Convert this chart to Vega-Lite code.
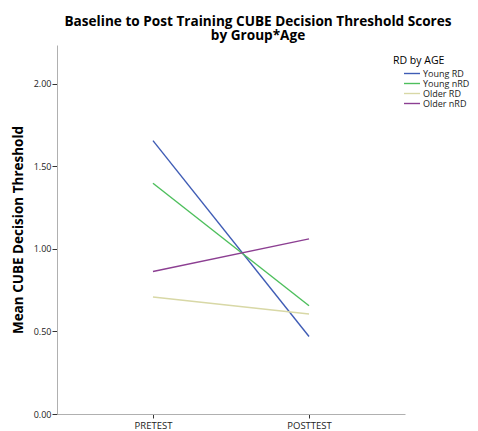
{
  "$schema": "https://vega.github.io/schema/vega-lite/v6.json",
  "width": 348,
  "height": 369,
  "autosize": {"type": "none"},
  "padding": {"left": 57, "top": 45, "right": 73, "bottom": 17},
  "background": "white",
  "title": {
    "text": ["Baseline to Post Training CUBE Decision Threshold Scores", "by Group*Age"],
    "font": "Open Sans",
    "fontSize": 13.6,
    "fontWeight": "bold",
    "color": "#000000",
    "anchor": "middle",
    "frame": "group",
    "dx": 27,
    "offset": 2,
    "lineHeight": 14
  },
  "data": {
    "values": [
      {"time": "PRETEST", "group": "Young RD", "mean": 1.655},
      {"time": "POSTTEST", "group": "Young RD", "mean": 0.469},
      {"time": "PRETEST", "group": "Young nRD", "mean": 1.397},
      {"time": "POSTTEST", "group": "Young nRD", "mean": 0.655},
      {"time": "PRETEST", "group": "Older RD", "mean": 0.708},
      {"time": "POSTTEST", "group": "Older RD", "mean": 0.605},
      {"time": "PRETEST", "group": "Older nRD", "mean": 0.863},
      {"time": "POSTTEST", "group": "Older nRD", "mean": 1.06}
    ]
  },
  "mark": {"type": "line", "strokeWidth": 1.4},
  "encoding": {
    "x": {
      "field": "time",
      "type": "nominal",
      "sort": ["PRETEST", "POSTTEST"],
      "scale": {"type": "point", "padding": 0.615},
      "axis": {
        "title": null,
        "labelAngle": 0,
        "labelFont": "Open Sans",
        "labelFontSize": 9.5,
        "labelColor": "#222222",
        "tickColor": "#333333",
        "tickSize": 4,
        "domainColor": "#b0b0b0",
        "labelPadding": 2,
        "grid": false
      }
    },
    "y": {
      "field": "mean",
      "type": "quantitative",
      "scale": {"domain": [0, 2.234], "nice": false},
      "axis": {
        "values": [0, 0.5, 1, 1.5, 2],
        "format": ".2f",
        "title": "Mean CUBE Decision Threshold",
        "titleFont": "Open Sans",
        "titleFontSize": 13.5,
        "titleFontWeight": "bold",
        "titleColor": "#000000",
        "titlePadding": 8,
        "labelFont": "Open Sans",
        "labelFontSize": 9,
        "labelColor": "#222222",
        "tickColor": "#333333",
        "tickSize": 5,
        "labelPadding": 1,
        "domainColor": "#b0b0b0",
        "grid": false
      }
    },
    "color": {
      "field": "group",
      "type": "nominal",
      "sort": ["Young RD", "Young nRD", "Older RD", "Older nRD"],
      "scale": {
        "domain": ["Young RD", "Young nRD", "Older RD", "Older nRD"],
        "range": ["#3f5cb5", "#4dbf5c", "#d8d8a6", "#8c3f92"]
      },
      "legend": {
        "title": "RD by AGE",
        "orient": "none",
        "legendX": 336,
        "legendY": 11,
        "titleFont": "Open Sans",
        "titleFontSize": 10.5,
        "titleFontWeight": "normal",
        "titleColor": "#000000",
        "titleAnchor": "start",
        "titlePadding": 2,
        "labelFont": "Open Sans",
        "labelFontSize": 9,
        "labelColor": "#222222",
        "symbolType": "M-2,0H2",
        "symbolSize": 64,
        "symbolOffset": 14,
        "symbolStrokeWidth": 1.4,
        "rowPadding": -1,
        "labelOffset": 6
      }
    }
  },
  "config": {"view": {"stroke": null}}
}
